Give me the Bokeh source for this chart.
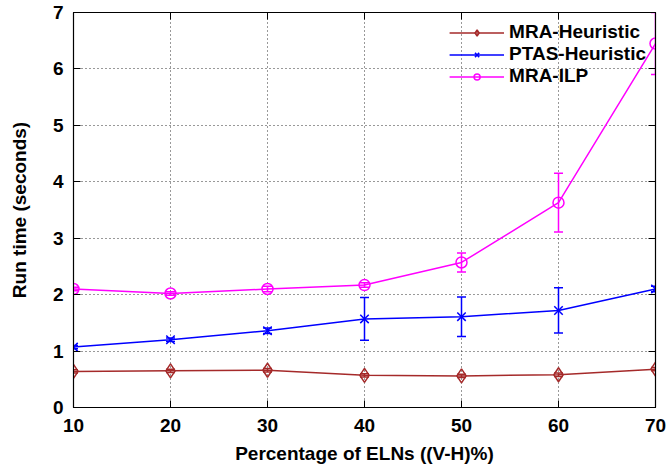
from bokeh.plotting import figure
from bokeh.models import (ColumnDataSource, Whisker, TeeHead, Range1d, LinearAxis,
                          Legend, LegendItem, FixedTicker, CustomLabelingPolicy)
from bokeh.embed import file_html
from bokeh.resources import INLINE

# ---- data ----
elns = [10, 20, 30, 40, 50, 60, 70]
mra_heur = [0.64, 0.65, 0.66, 0.57, 0.56, 0.58, 0.68]
mra_heur_err = [0.03, 0.03, 0.03, 0.03, 0.03, 0.03, 0.03]
ptas_heur = [1.07, 1.20, 1.36, 1.57, 1.61, 1.72, 2.10]
ptas_heur_err = [0.03, 0.03, 0.05, 0.38, 0.35, 0.40, 0.05]
mra_ilp = [2.10, 2.02, 2.10, 2.17, 2.57, 3.63, 6.45]
mra_ilp_err = [0.03, 0.03, 0.05, 0.04, 0.17, 0.52, 0.55]

x_ticks = [10, 20, 30, 40, 50, 60, 70]
y_ticks = [0, 1, 2, 3, 4, 5, 6, 7]

FONT = "Liberation Sans"

p = figure(width=666, height=468, output_backend="svg", toolbar_location=None,
           x_range=Range1d(10, 70), y_range=Range1d(0, 7),
           min_border_left=73, min_border_right=11, min_border_top=12,
           min_border_bottom=61)
p.outline_line_color = "black"
p.outline_line_width = 1.2
p.background_fill_color = "white"
p.border_fill_color = "white"

for ax in (p.xaxis, p.yaxis):
    ax.major_tick_in = 7
    ax.major_tick_out = 0
    ax.minor_tick_in = 0
    ax.minor_tick_out = 0
    ax.axis_line_color = "black"
    ax.major_label_text_font = FONT
    ax.major_label_text_font_style = "bold"
    ax.major_label_text_font_size = "19px"
    ax.major_label_text_color = "black"
    ax.axis_label_text_font = FONT
    ax.axis_label_text_font_style = "bold"
    ax.axis_label_text_font_size = "19px"
    ax.axis_label_text_color = "black"

p.xaxis.ticker = FixedTicker(ticks=x_ticks)
p.yaxis.ticker = FixedTicker(ticks=y_ticks)
p.xaxis.axis_label = "Percentage of ELNs ((V-H)%)"
p.yaxis.axis_label = "Run time (seconds)"
p.xaxis.major_label_standoff = 11
p.yaxis.major_label_standoff = 10
p.xaxis.axis_label_standoff = 8
p.yaxis.axis_label_standoff = 20

for g in (p.xgrid, p.ygrid):
    g.grid_line_color = "black"
    g.grid_line_dash = "1 3"
    g.grid_line_width = 1
    g.grid_line_alpha = 0.8
p.xgrid.ticker = FixedTicker(ticks=x_ticks)
p.ygrid.ticker = FixedTicker(ticks=y_ticks)

# mirror ticks on top/right (no labels)
hide_code = """
for (let i = 0; i < indices.size; i++) { indices.unset(i) }
return indices
"""
rax = LinearAxis(ticker=FixedTicker(ticks=y_ticks), major_tick_in=7, major_tick_out=0,
                 minor_tick_in=0, minor_tick_out=0,
                 major_label_policy=CustomLabelingPolicy(code=hide_code),
                 major_label_standoff=0, axis_line_color="black")
p.add_layout(rax, "right")
tax = LinearAxis(ticker=FixedTicker(ticks=x_ticks), major_tick_in=7, major_tick_out=0,
                 minor_tick_in=0, minor_tick_out=0,
                 major_label_policy=CustomLabelingPolicy(code=hide_code),
                 major_label_standoff=0, axis_line_color="black")
p.add_layout(tax, "above")

series = [
    ("MRA-Heuristic", mra_heur, mra_heur_err, "#a52a2a", "diamond", 14),
    ("PTAS-Heuristic", ptas_heur, ptas_heur_err, "#0000ff", "x", 12),
    ("MRA-ILP", mra_ilp, mra_ilp_err, "#ff00ff", "circle", 11),
]

items = []
for name, vals, errs, color, marker, msize in series:
    src = ColumnDataSource(dict(
        x=elns, y=vals,
        lo=[v - e for v, e in zip(vals, errs)],
        hi=[v + e for v, e in zip(vals, errs)],
    ))
    ln = p.line("x", "y", source=src, line_color=color, line_width=1.5)
    w = Whisker(source=src, base="x", lower="lo", upper="hi",
                line_color=color, line_width=1.5,
                upper_head=TeeHead(size=9, line_color=color, line_width=1.5),
                lower_head=TeeHead(size=9, line_color=color, line_width=1.5))
    p.add_layout(w)
    sc = p.scatter("x", "y", source=src, marker=marker, size=msize,
                   line_color=color, fill_color=None, line_width=1.5)
    items.append(LegendItem(label=name, renderers=[ln, sc]))

legend = Legend(items=items, location="top_right")
legend.background_fill_alpha = 0
legend.border_line_alpha = 0
legend.label_text_font = FONT
legend.label_text_font_style = "bold"
legend.label_text_font_size = "19px"
legend.label_text_color = "black"
legend.glyph_width = 55
legend.glyph_height = 15
legend.label_height = 15
legend.spacing = 0
legend.padding = 3
legend.margin = 6
p.add_layout(legend)

open("out.html", "w").write(file_html(p, INLINE))
